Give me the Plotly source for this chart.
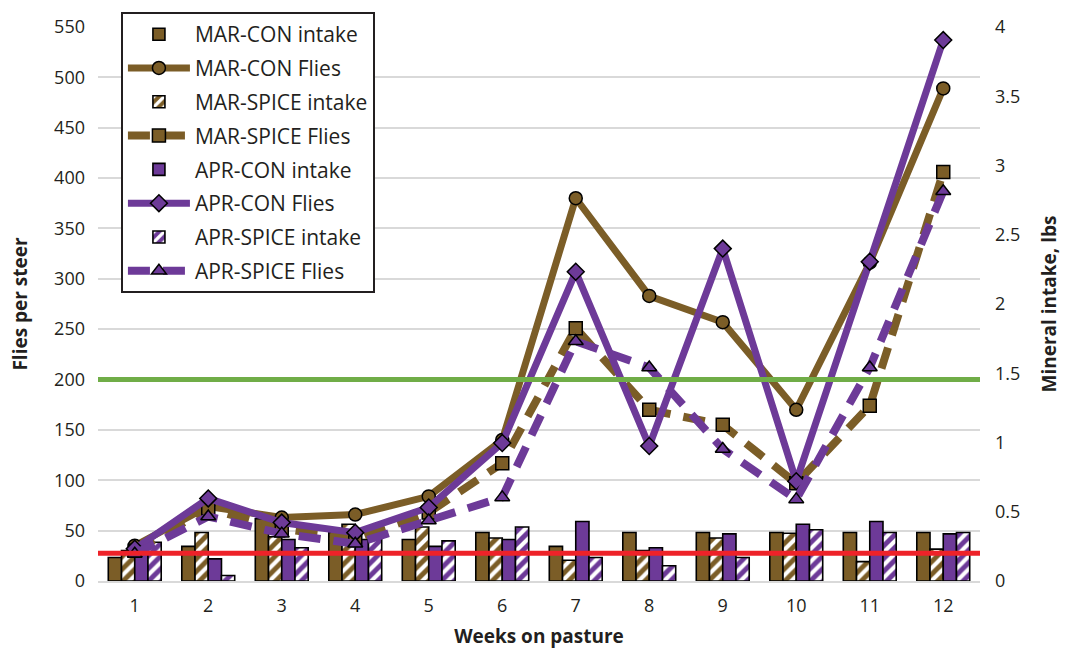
import plotly.graph_objects as go

# Weeks on pasture
weeks = [1, 2, 3, 4, 5, 6, 7, 8, 9, 10, 11, 12]

# Mineral intake, lbs per steer per day
mar_con_intake = [0.17, 0.25, 0.45, 0.35, 0.30, 0.35, 0.25, 0.35, 0.35, 0.35, 0.35, 0.35]
mar_spice_intake = [0.22, 0.35, 0.32, 0.41, 0.39, 0.31, 0.15, 0.22, 0.31, 0.345, 0.14, 0.23]
apr_con_intake = [0.25, 0.16, 0.30, 0.30, 0.25, 0.30, 0.43, 0.24, 0.34, 0.41, 0.43, 0.34]
apr_spice_intake = [0.28, 0.04, 0.24, 0.34, 0.29, 0.39, 0.17, 0.11, 0.17, 0.37, 0.35, 0.35]

# Horn flies per steer
mar_con_flies = [35, 74, 63, 66, 84, 140, 380, 283, 257, 170, 316, 489]
mar_spice_flies = [30, 72, 52, 42, 68, 117, 251, 170, 155, 97, 174, 406]
apr_con_flies = [32, 82, 58, 48, 73, 137, 307, 134, 330, 99, 317, 537]
apr_spice_flies = [27, 64, 47, 37, 60, 83, 238, 212, 131, 81, 212, 387]

# Reference levels
fly_threshold = 200       # flies per steer
intake_target = 0.2       # lbs

BROWN = "#7B5D27"
PURPLE = "#6D3A98"
FONT = "Open Sans"

fig = go.Figure()


def bar(name, values, color, hatched):
    if hatched:
        pattern = dict(shape="/", fgcolor="white", bgcolor=color, fgopacity=1,
                       fillmode="replace", size=9, solidity=0.45)
    else:
        pattern = dict(shape="")
    return go.Bar(
        x=weeks, y=values, name=name, yaxis="y", legendgroup=name,
        marker=dict(color=color, line=dict(color="black", width=1.6), pattern=pattern),
    )


def flies(name, values, color, symbol, dashed):
    return go.Scatter(
        x=weeks, y=values, name=name, yaxis="y2", mode="lines+markers", legendgroup=name,
        line=dict(color=color, width=7 if not dashed else 8, dash="22px,13px" if dashed else "solid"),
        marker=dict(symbol=symbol, size=13, color=color, line=dict(color="black", width=1.5)),
    )


fig.add_trace(bar("MAR-CON intake", mar_con_intake, BROWN, False))
fig.add_trace(flies("MAR-CON Flies", mar_con_flies, BROWN, "circle", False))
fig.add_trace(bar("MAR-SPICE intake", mar_spice_intake, BROWN, True))
fig.add_trace(flies("MAR-SPICE Flies", mar_spice_flies, BROWN, "square", True))
fig.add_trace(bar("APR-CON intake", apr_con_intake, PURPLE, False))
fig.add_trace(flies("APR-CON Flies", apr_con_flies, PURPLE, "diamond", False))
fig.add_trace(bar("APR-SPICE intake", apr_spice_intake, PURPLE, True))
fig.add_trace(flies("APR-SPICE Flies", apr_spice_flies, PURPLE, "triangle-up", True))

# Threshold lines across the full plot width
fig.add_shape(type="line", xref="paper", x0=0, x1=1, yref="y2", y0=fly_threshold, y1=fly_threshold,
              line=dict(color="#70AD47", width=5), layer="above")
fig.add_shape(type="line", xref="paper", x0=0, x1=1, yref="y", y0=intake_target, y1=intake_target,
              line=dict(color="#EE2229", width=5), layer="above")

fig.update_layout(
    width=1065, height=649,
    margin=dict(l=98, r=85, t=23, b=68),
    paper_bgcolor="white", plot_bgcolor="white",
    font=dict(family=FONT, size=18, color="#231F20"),
    barmode="group", bargap=0.28, bargroupgap=0,
    showlegend=True,
    legend=dict(
        x=0.026, y=1.027, xanchor="left", yanchor="top",
        bgcolor="white", bordercolor="#231F20", borderwidth=2,
        font=dict(family=FONT, size=21), traceorder="grouped", tracegroupgap=3.5,
        itemwidth=62,
    ),
    xaxis=dict(
        range=[0.5, 12.5], tickvals=weeks, ticks="", showgrid=False, automargin=False,
        showline=True, linecolor="#D9D9D9", linewidth=1.5, ticklabelstandoff=8,
        title=dict(text="<b>Weeks on pasture</b>", font=dict(size=19), standoff=13),
    ),
    yaxis=dict(
        range=[0, 4], dtick=0.5, side="right", showgrid=False, zeroline=False,
        ticks="", ticklabelstandoff=14, automargin=False,
        title=dict(text="<b>Mineral intake, lbs</b>", font=dict(size=19), standoff=23),
    ),
    yaxis2=dict(
        range=[0, 550], dtick=50, side="left", overlaying="y", showgrid=True, automargin=False,
        gridcolor="#D9D9D9", gridwidth=1.5, zeroline=False, ticks="", ticklabelstandoff=12,
        title=dict(text="<b>Flies per steer</b>", font=dict(size=19), standoff=21),
    ),
)

fig.write_html("out.html")
